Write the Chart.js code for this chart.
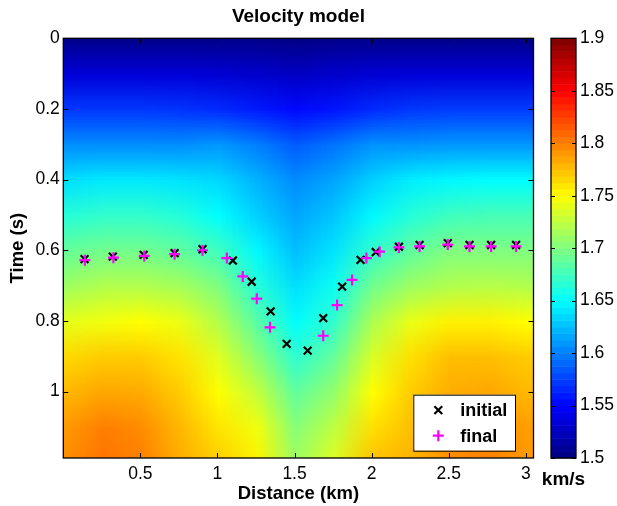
<!DOCTYPE html>
<html>
<head>
<meta charset="utf-8">
<script src="https://cdn.jsdelivr.net/npm/chart.js@4.4.1/dist/chart.umd.min.js"></script>
<style>
  html, body { margin: 0; padding: 0; background: #fff; }
  canvas { display: block; }
</style>
</head>
<body>
<canvas id="grafica" width="617" height="506"></canvas>
<script>
// picks (distance km, time s)
const initialX = [0.138, 0.321, 0.521, 0.722, 0.903, 1.100, 1.222, 1.345, 1.449, 1.585, 1.686, 1.809, 1.928, 2.027, 2.177, 2.311, 2.494, 2.635, 2.775, 2.937];
const initialT = [0.625, 0.618, 0.613, 0.608, 0.597, 0.629, 0.689, 0.773, 0.865, 0.884, 0.792, 0.703, 0.627, 0.605, 0.590, 0.585, 0.580, 0.585, 0.585, 0.585];
const finalX = [0.140, 0.325, 0.525, 0.722, 0.903, 1.061, 1.164, 1.255, 1.341, 1.686, 1.776, 1.873, 1.966, 2.052, 2.177, 2.311, 2.494, 2.635, 2.775, 2.937];
const finalT = [0.628, 0.621, 0.616, 0.611, 0.600, 0.622, 0.674, 0.737, 0.818, 0.842, 0.755, 0.684, 0.622, 0.604, 0.592, 0.589, 0.584, 0.589, 0.589, 0.589];

// velocity model grid (km/s), one row per time sample
const distCols = [0, 0.25, 0.5, 0.75, 1, 1.25, 1.5, 1.75, 2, 2.25, 2.5, 2.75, 3];
const timeRows = [0, 0.1, 0.2, 0.3, 0.4, 0.5, 0.6, 0.7, 0.8, 0.9, 1.0, 1.1, 1.2];
const vel_t00 = [1.505, 1.505, 1.505, 1.505, 1.505, 1.505, 1.503, 1.505, 1.505, 1.505, 1.505, 1.505, 1.505];
const vel_t01 = [1.535, 1.535, 1.535, 1.535, 1.533, 1.530, 1.527, 1.530, 1.533, 1.535, 1.535, 1.535, 1.535];
const vel_t02 = [1.572, 1.572, 1.572, 1.570, 1.567, 1.560, 1.553, 1.558, 1.567, 1.572, 1.574, 1.574, 1.574];
const vel_t03 = [1.606, 1.606, 1.606, 1.606, 1.610, 1.600, 1.586, 1.596, 1.608, 1.608, 1.610, 1.610, 1.610];
const vel_t04 = [1.638, 1.642, 1.642, 1.640, 1.635, 1.620, 1.605, 1.615, 1.632, 1.644, 1.648, 1.650, 1.650];
const vel_t05 = [1.665, 1.670, 1.670, 1.664, 1.650, 1.632, 1.615, 1.628, 1.648, 1.665, 1.675, 1.678, 1.678];
const vel_t06 = [1.690, 1.695, 1.695, 1.688, 1.675, 1.648, 1.625, 1.640, 1.670, 1.688, 1.700, 1.700, 1.700];
const vel_t07 = [1.712, 1.720, 1.720, 1.715, 1.700, 1.665, 1.638, 1.655, 1.695, 1.712, 1.720, 1.722, 1.720];
const vel_t08 = [1.740, 1.745, 1.750, 1.742, 1.720, 1.685, 1.650, 1.670, 1.718, 1.742, 1.755, 1.755, 1.750];
const vel_t09 = [1.765, 1.770, 1.770, 1.760, 1.738, 1.705, 1.668, 1.690, 1.735, 1.762, 1.775, 1.775, 1.770];
const vel_t10 = [1.778, 1.785, 1.783, 1.770, 1.750, 1.727, 1.688, 1.708, 1.750, 1.770, 1.782, 1.785, 1.778];
const vel_t11 = [1.790, 1.800, 1.795, 1.778, 1.760, 1.745, 1.703, 1.725, 1.762, 1.775, 1.790, 1.795, 1.788];
const vel_t12 = [1.795, 1.805, 1.800, 1.782, 1.770, 1.755, 1.713, 1.738, 1.775, 1.780, 1.795, 1.800, 1.790];
const velGrid = [vel_t00, vel_t01, vel_t02, vel_t03, vel_t04, vel_t05, vel_t06, vel_t07, vel_t08, vel_t09, vel_t10, vel_t11, vel_t12];

const distTicks = [0.5, 1, 1.5, 2, 2.5, 3];
const timeTicks = [0, 0.2, 0.4, 0.6, 0.8, 1];
const cbTicks = [1.5, 1.55, 1.6, 1.65, 1.7, 1.75, 1.8, 1.85, 1.9];
const cbMin = 1.5, cbMax = 1.9;

const FONT = "'Liberation Sans', Arial, Helvetica, sans-serif";
Chart.defaults.font.family = FONT;
Chart.defaults.color = '#000';

// matlab jet colormap
function jet(v) {
  const s = Math.min(Math.max((v - cbMin) / (cbMax - cbMin), 0), 1);
  const c = k => Math.round(255 * Math.min(Math.max(1.5 - Math.abs(4 * s - k), 0), 1));
  return [c(3), c(2), c(1)];
}

let gridImg = null;
function buildGridImage() {
  const nx = distCols.length, ny = timeRows.length;
  const off = document.createElement('canvas');
  off.width = nx; off.height = ny;
  const octx = off.getContext('2d');
  const img = octx.createImageData(nx, ny);
  for (let j = 0; j < ny; j++) {
    for (let i = 0; i < nx; i++) {
      const [r, g, b] = jet(velGrid[j][i]);
      const k = (j * nx + i) * 4;
      img.data[k] = r; img.data[k + 1] = g; img.data[k + 2] = b; img.data[k + 3] = 255;
    }
  }
  octx.putImageData(img, 0, 0);
  return off;
}

const heatmap = {
  id: 'heatmap',
  beforeDatasetsDraw(chart) {
    const {ctx, chartArea: a, scales: {x, y}} = chart;
    if (!gridImg) gridImg = buildGridImage();
    const dx = distCols[1] - distCols[0], dt = timeRows[1] - timeRows[0];
    const x0 = x.getPixelForValue(distCols[0] - dx / 2);
    const x1 = x.getPixelForValue(distCols[distCols.length - 1] + dx / 2);
    const y0 = y.getPixelForValue(timeRows[0] - dt / 2);
    const y1 = y.getPixelForValue(timeRows[timeRows.length - 1] + dt / 2);
    ctx.save();
    ctx.beginPath();
    ctx.rect(a.left, a.top, a.right - a.left, a.bottom - a.top);
    ctx.clip();
    ctx.imageSmoothingEnabled = true;
    ctx.imageSmoothingQuality = 'low';
    ctx.drawImage(gridImg, x0, y0, x1 - x0, y1 - y0);
    ctx.restore();
  }
};

function drawMarker(ctx, style, cx, cy, r, color, lw) {
  ctx.save();
  ctx.strokeStyle = color;
  ctx.lineWidth = lw;
  ctx.beginPath();
  if (style === 'crossRot') {
    const d = r * Math.SQRT1_2;
    ctx.moveTo(cx - d, cy - d); ctx.lineTo(cx + d, cy + d);
    ctx.moveTo(cx - d, cy + d); ctx.lineTo(cx + d, cy - d);
  } else {
    ctx.moveTo(cx - r, cy); ctx.lineTo(cx + r, cy);
    ctx.moveTo(cx, cy - r); ctx.lineTo(cx, cy + r);
  }
  ctx.stroke();
  ctx.restore();
}

const frame = {
  id: 'frame',
  afterDatasetsDraw(chart) {
    const {ctx, chartArea: a, scales: {x, y, cb}} = chart;
    const tl = 5;
    ctx.save();
    ctx.strokeStyle = '#000';
    ctx.lineWidth = 1;
    // inward ticks, all four sides
    ctx.beginPath();
    x.ticks.forEach(t => {
      const px = Math.round(x.getPixelForValue(t.value)) + 0.5;
      ctx.moveTo(px, a.bottom); ctx.lineTo(px, a.bottom - tl);
      ctx.moveTo(px, a.top); ctx.lineTo(px, a.top + tl);
    });
    y.ticks.forEach(t => {
      const py = Math.round(y.getPixelForValue(t.value)) + 0.5;
      ctx.moveTo(a.left, py); ctx.lineTo(a.left + tl, py);
      ctx.moveTo(a.right, py); ctx.lineTo(a.right - tl, py);
    });
    ctx.stroke();
    ctx.lineWidth = 1.3;
    ctx.strokeRect(a.left, a.top, a.right - a.left, a.bottom - a.top);

    // colorbar
    const cbL = a.right + 17.5, cbR = a.right + 42.5;
    const n = 64, step = (cbMax - cbMin) / n;
    for (let i = 0; i < n; i++) {
      const v0 = cbMin + i * step, v1 = v0 + step;
      const [r, g, b] = jet(v0 + step / 2);
      const p0 = cb.getPixelForValue(v0), p1 = cb.getPixelForValue(v1);
      ctx.fillStyle = `rgb(${r},${g},${b})`;
      ctx.fillRect(cbL, p1, cbR - cbL, p0 - p1 + 0.5);
    }
    ctx.lineWidth = 1;
    ctx.beginPath();
    cb.ticks.forEach(t => {
      const py = Math.round(cb.getPixelForValue(t.value)) + 0.5;
      ctx.moveTo(cbL, py); ctx.lineTo(cbL + 4, py);
      ctx.moveTo(cbR, py); ctx.lineTo(cbR - 4, py);
    });
    ctx.stroke();
    ctx.lineWidth = 1.3;
    ctx.strokeRect(cbL, a.top, cbR - cbL, a.bottom - a.top);
    ctx.fillStyle = '#000';
    ctx.font = `bold 19px ${FONT}`;
    ctx.textAlign = 'center';
    ctx.textBaseline = 'middle';
    ctx.fillText('km/s', (cbL + cbR) / 2, a.bottom + 22);

    // legend box
    const bx = a.right - 120.2, by = a.bottom - 63.3, bw = 101.7, bh = 56;
    ctx.fillStyle = '#fff';
    ctx.fillRect(bx, by, bw, bh);
    ctx.lineWidth = 1;
    ctx.strokeRect(bx + 0.5, by + 0.5, bw, bh);
    chart.data.datasets.slice().sort((p, q) => q.order - p.order).forEach((ds, i) => {
      const ly = by + 15.5 + i * 25.5;
      drawMarker(ctx, ds.pointStyle, bx + 25, ly, ds.pointRadius, ds.borderColor, ds.pointBorderWidth);
      ctx.fillStyle = '#000';
      ctx.font = `bold 18px ${FONT}`;
      ctx.textAlign = 'left';
      ctx.textBaseline = 'middle';
      ctx.fillText(ds.label, bx + 47, ly + 1);
    });
    ctx.restore();
  }
};

const toPoints = (xs, ts) => xs.map((v, i) => ({x: v, y: ts[i]}));

const graph = document.querySelector('#grafica');
new Chart(graph, {
  type: 'scatter',
  data: {
    datasets: [
      {
        label: 'initial',
        data: toPoints(initialX, initialT),
        pointStyle: 'crossRot',
        pointRadius: 5.5,
        pointBorderWidth: 2.2,
        borderColor: '#000',
        backgroundColor: '#000',
        order: 2,
        xAxisID: 'x', yAxisID: 'y'
      },
      {
        label: 'final',
        data: toPoints(finalX, finalT),
        pointStyle: 'cross',
        pointRadius: 5.5,
        pointBorderWidth: 2.2,
        borderColor: '#ff00ff',
        backgroundColor: '#ff00ff',
        order: 1,
        xAxisID: 'x', yAxisID: 'y'
      }
    ]
  },
  options: {
    responsive: false,
    animation: false,
    events: [],
    layout: { padding: 0 },
    scales: {
      x: {
        type: 'linear', position: 'bottom', min: 0, max: 3.05,
        afterBuildTicks: s => { s.ticks = distTicks.map(v => ({value: v})); },
        afterFit: s => { s.height = 48; },
        ticks: { font: { size: 17.5 }, padding: 6, maxRotation: 0, autoSkip: false, callback: v => String(v) },
        grid: { display: false, drawTicks: false },
        border: { display: false },
        title: { display: true, text: 'Distance (km)', font: { size: 18.5, weight: 'bold' }, padding: { top: 0, bottom: 1 } }
      },
      y: {
        type: 'linear', position: 'left', min: 0, max: 1.188, reverse: true,
        afterBuildTicks: s => { s.ticks = timeTicks.map(v => ({value: v})); },
        afterFit: s => { s.width = 63.3; s.paddingTop = 0; s.paddingBottom = 0; },
        ticks: { font: { size: 17.5 }, padding: 3.5, autoSkip: false, callback: v => String(v) },
        grid: { display: false, drawTicks: false },
        border: { display: false },
        title: { display: true, text: 'Time (s)', font: { size: 18.5, weight: 'bold' }, padding: { top: 7, bottom: 0 } }
      },
      cb: {
        type: 'linear', position: 'right', axis: 'y', min: cbMin, max: cbMax,
        afterBuildTicks: s => { s.ticks = cbTicks.map(v => ({value: v})); },
        afterFit: s => { s.width = 83.5; s.paddingTop = 0; s.paddingBottom = 0; },
        ticks: { font: { size: 17.5 }, padding: 46.5, autoSkip: false, callback: v => String(v) },
        grid: { display: false, drawTicks: false },
        border: { display: false }
      }
    },
    plugins: {
      legend: { display: false },
      tooltip: { enabled: false },
      title: {
        display: true, text: 'Velocity model', fullSize: false,
        font: { size: 19, weight: 'bold' },
        padding: { top: 5, bottom: 10.5 }
      }
    }
  },
  plugins: [heatmap, frame]
});
</script>
</body>
</html>
